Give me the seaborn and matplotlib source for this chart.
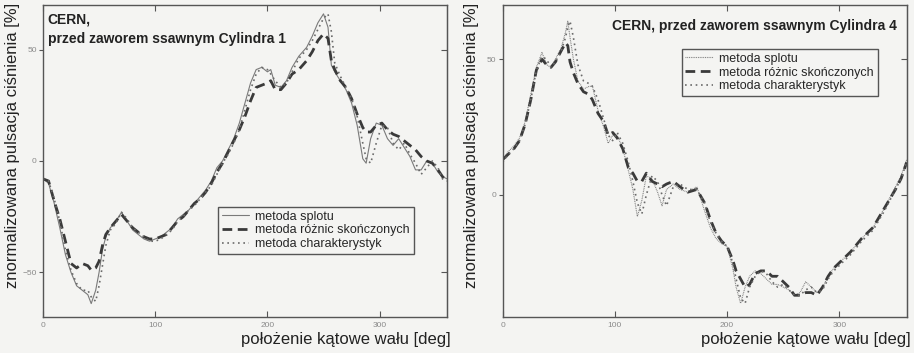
import matplotlib
matplotlib.use("Agg")
import matplotlib.pyplot as plt
import numpy as np
import pandas as pd
import seaborn as sns

# %%
# data - cylinder 1 (left panel)
kat_1 = [0, 5, 10, 15, 20, 25, 30, 35, 40, 43, 47, 50, 53, 56, 60, 65, 70, 75, 80, 85,
         90, 95, 100, 105, 110, 115, 120, 125, 130, 135, 140, 145, 150, 155, 160, 165,
         170, 175, 180, 185, 190, 195, 200, 203, 207, 212, 217, 222, 228, 235, 240, 245,
         250, 254, 257, 260, 265, 270, 275, 280, 285, 288, 292, 297, 302, 307, 312, 317,
         322, 327, 332, 337, 342, 347, 352, 356, 360]
splot_1 = [-8, -10, -19, -30, -42, -50, -56, -58, -60, -64, -58, -50, -40, -34, -30, -27, -23, -27, -31, -33,
           -35, -36, -35, -34, -32, -30, -26, -24, -22, -19, -16, -13, -9, -3, 0, 5,
           10, 17, 26, 35, 41, 42, 40, 41, 34, 33, 36, 42, 47, 51, 56, 62,
           66, 60, 43, 40, 36, 32, 26, 16, 1, -1, 10, 17, 16, 10, 7, 10,
           6, 2, -4, -4, 0, -1, -5, -7, -8]
roznice_1 = [-8, -9, -18, -26, -36, -46, -48, -46, -47, -49, -48, -45, -38, -33, -30, -27, -24, -27, -30, -32,
             -34, -35, -35, -34, -33, -30, -27, -25, -22, -19, -17, -14, -10, -5, -1, 4,
             9, 14, 20, 27, 33, 34, 35, 36, 32, 32, 35, 39, 41, 45, 49, 54,
             57, 55, 45, 41, 36, 33, 28, 21, 15, 13, 13, 16, 17, 14, 12, 11,
             9, 7, 5, 2, 0, -1, -4, -7, -9]
charakt_1 = [-8, -9, -17, -27, -40, -49, -55, -58, -58, -61, -63, -56, -47, -38, -31, -28, -23, -26, -30, -32,
             -34, -36, -36, -35, -33, -31, -27, -25, -22, -20, -17, -14, -11, -6, -1, 3,
             8, 14, 23, 32, 39, 42, 41, 39, 36, 33, 35, 40, 46, 50, 54, 59,
             64, 66, 58, 44, 38, 33, 28, 20, 8, 1, -1, 8, 16, 15, 8, 5,
             8, 3, -1, -6, -3, 0, -3, -8, -9]

# cylinder 4 (right panel)
kat_4 = [0, 5, 10, 15, 20, 25, 30, 35, 39, 43, 47, 52, 56, 58, 60, 63, 67, 72, 77, 80,
         85, 90, 94, 98, 102, 107, 112, 116, 120, 124, 128, 133, 138, 142, 146, 152, 158, 165,
         173, 180, 185, 190, 195, 200, 205, 208, 212, 216, 220, 225, 230, 235, 240, 245,
         250, 255, 260, 265, 270, 275, 280, 285, 290, 295, 300, 310, 320, 330, 340, 350,
         355, 360]
splot_4 = [13, 16, 18, 21, 27, 37, 47, 52.5, 48, 47, 50, 54, 60, 64, 58, 50, 42, 39, 40, 40,
           31, 25, 19, 22, 22, 17, 9, 2, -8, -2, 7, 6, 1, -4, 2, 4, 2, 1,
           3, -6, -12, -16, -18, -19, -27, -34, -40, -34, -30, -28, -29, -31, -33, -33,
           -34, -35, -37, -36, -32, -34, -36, -34, -30, -27, -25, -21, -16, -12, -5, 3,
           7, 13]
roznice_4 = [13, 15, 17, 20, 26, 35, 46, 50, 48, 47, 49, 53, 56, 55, 49, 45, 41, 38, 37, 35,
             30, 27, 22, 23, 21, 17, 10, 8, 5, 5, 8, 5, 4, 3, 4, 5, 3, 1,
             2, -3, -9, -14, -17, -19, -24, -28, -31, -34, -33, -29, -28, -28, -30, -30,
             -32, -34, -37, -37, -36, -36, -37, -34, -30, -27, -25, -21, -16, -12, -5, 2,
             6, 12]
charakt_4 = [12, 15, 17, 20, 26, 35, 46, 51, 50, 47, 49, 53, 58, 62, 64, 58, 48, 42, 41, 40,
             35, 28, 22, 20, 23, 19, 12, 5, -3, -7, 0, 7, 5, 0, -4, 3, 4, 2,
             2, -3, -10, -14, -17, -19, -25, -31, -38, -40, -34, -30, -28, -29, -32, -34,
             -33, -35, -37, -37, -35, -34, -36, -35, -31, -28, -26, -22, -17, -13, -6, 2,
             6, 12]

nazwy = ["metoda splotu", "metoda różnic skończonych", "metoda charakterystyk"]

# %%
sns.set_style("white")
plt.rcParams["font.family"] = ["Liberation Sans", "DejaVu Sans"]

tlo = "#f4f4f2"
fig = plt.figure(figsize=(9.14, 3.53), dpi=100, facecolor=tlo)
ax1 = fig.add_axes([0.047, 0.102, 0.442, 0.884])
ax2 = fig.add_axes([0.550, 0.102, 0.442, 0.884])


def panel(ax, kat, s, r, c, splot_styl, yticks):
    ax.set_facecolor(tlo)
    sns.lineplot(x=kat, y=s, ax=ax, color="#7a7a7a", lw=0.8, linestyle=splot_styl, label=nazwy[0])
    sns.lineplot(x=kat, y=r, ax=ax, color="#3a3a3a", lw=2.0, linestyle=(0, (3.5, 2)), label=nazwy[1])
    sns.lineplot(x=kat, y=c, ax=ax, color="#6a6a6a", lw=1.2, linestyle=(0, (1, 2.2)), label=nazwy[2])
    ax.set_xlim(0, 360)
    ax.set_xticks([0, 100, 200, 300])
    ax.set_yticks(yticks)
    for sp in ax.spines.values():
        sp.set_color("#555555")
        sp.set_linewidth(1.0)
    ax.tick_params(axis="both", labelsize=6, labelcolor="#8a8a8a", color="#555555", length=4, width=0.8)
    ax.tick_params(axis="x", direction="in", top=True, bottom=True)
    ax.tick_params(axis="y", direction="out", left=True, right=False, length=3, pad=1.5)
    # inward ticks on the right edge
    prawa = ax.secondary_yaxis("right")
    prawa.set_yticks(yticks)
    prawa.tick_params(direction="in", length=4, width=0.8, color="#555555", labelright=False)
    prawa.spines["right"].set_color("#555555")
    ax.set_ylabel("znormalizowana pulsacja ciśnienia [%]", fontsize=12, color="#222222")
    ax.yaxis.set_label_coords(-0.058, 0.55)
    ax.set_xlabel("położenie kątowe wału [deg]", fontsize=12, color="#222222", ha="right")
    ax.xaxis.set_label_coords(1.01, -0.048)


ax1.set_ylim(-70, 70)
panel(ax1, kat_1, splot_1, roznice_1, charakt_1, "-", [-50, 0, 50])
ax1.text(0.012, 0.975, "CERN,\nprzed zaworem ssawnym Cylindra 1", transform=ax1.transAxes,
         fontsize=10, fontweight="bold", va="top", ha="left", color="#222222", linespacing=1.5)
ax1.legend(loc="upper left", bbox_to_anchor=(0.433, 0.353), fontsize=9, frameon=True,
           fancybox=False, edgecolor="#555555", facecolor=tlo, framealpha=1,
           handlelength=2.2, borderpad=0.3, labelspacing=0.15, handletextpad=0.5, borderaxespad=0)

ax2.set_ylim(-45, 70)
panel(ax2, kat_4, splot_4, roznice_4, charakt_4, (0, (0.8, 0.8)), [0, 50])
ax2.text(0.975, 0.955, "CERN, przed zaworem ssawnym Cylindra 4", transform=ax2.transAxes,
         fontsize=10, fontweight="bold", va="top", ha="right", color="#222222")
ax2.legend(loc="upper left", bbox_to_anchor=(0.443, 0.859), fontsize=9, frameon=True,
           fancybox=False, edgecolor="#555555", facecolor=tlo, framealpha=1,
           handlelength=2.2, borderpad=0.3, labelspacing=0.15, handletextpad=0.5, borderaxespad=0)

fig.savefig("out.png", dpi=100, facecolor=tlo)
